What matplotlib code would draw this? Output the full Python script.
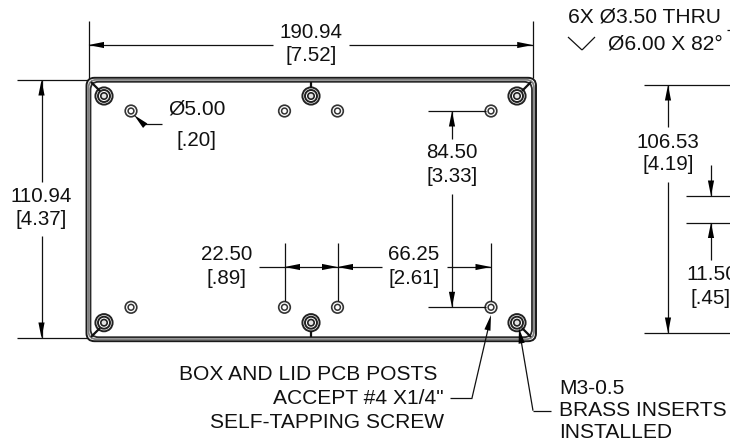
import matplotlib
matplotlib.use('Agg')
import matplotlib.pyplot as plt
from matplotlib.patches import Circle, FancyBboxPatch
import numpy as np

plt.rcParams['font.family'] = ['Liberation Sans', 'DejaVu Sans']

# Drawing geometry in pixels
big_holes = [(104, 96), (311, 96), (517, 96), (104, 322.7), (311, 322.7), (517, 322.7)]
small_holes = [(131, 111), (284.5, 111), (337.5, 111), (491, 111),
               (131, 307.3), (284.5, 307.3), (337.5, 307.3), (491, 307.3)]
corner_ticks = [((91, 82), (100, 91)), ((311, 82), (311, 88)), ((531, 82), (522, 91)),
                ((91, 337), (100, 328)), ((311, 337), (311, 331)), ((531, 337), (522, 328))]

thin_lines = [
    ((88.5, 21), (88.5, 78)), ((532.7, 21), (532.7, 78)),
    ((88.5, 45), (273, 45)), ((349, 45), (532.7, 45)),
    ((17, 80), (88, 80)), ((17, 338), (88, 338)),
    ((41.5, 80), (41.5, 182)), ((41.5, 236), (41.5, 338)),
    ((145, 124), (162, 124)),
    ((644, 85), (730, 85)), ((644, 333), (730, 333)),
    ((668, 85), (668, 127)), ((668, 182), (668, 333)),
    ((686, 196), (730, 196)), ((686, 222.5), (730, 222.5)),
    ((711, 165), (711, 196)), ((711, 222.5), (711, 260)),
    ((428, 111), (486, 111)), ((428, 307.3), (486, 307.3)),
    ((452, 111), (452, 139)), ((452, 194), (452, 307.3)),
    ((284.5, 243), (284.5, 301)), ((337.5, 243), (337.5, 301)), ((491, 243), (491, 301)),
    ((259, 267), (382, 267)), ((447, 267), (491, 267)),
    ((450, 398), (472, 398)), ((472, 398), (489, 325)),
    ((551, 410.7), (533, 410.7)), ((533, 410.7), (521, 340)),
    ((568, 37), (582, 50)), ((582, 50), (595, 37)),
    ((727, 30), (730, 30)),
]
# tip x, tip y, direction x, direction y (direction points from the tip to the tail)
arrows = [
    (88.5, 45, 1, 0), (532.7, 45, -1, 0),
    (41.5, 80, 0, 1), (41.5, 338, 0, -1),
    (668, 85, 0, 1), (668, 333, 0, -1),
    (711, 196, 0, -1), (711, 222.5, 0, 1),
    (452, 111, 0, 1), (452, 307.3, 0, -1),
    (284.5, 267, 1, 0), (337.5, 267, -1, 0), (337.5, 267, 1, 0), (491, 267, -1, 0),
    (491, 315, -0.23, 0.97), (519, 328, 0.17, 0.98),
    (134, 115, 0.72, 0.69),
]

labels_digits = [
    ('190.94', 311, 32), ('[7.52]', 311, 55),
    ('110.94', 41, 196), ('[4.37]', 41, 219),
    ('[.20]', 197, 140),
    ('106.53', 668, 142), ('[4.19]', 668, 165),
    ('84.50', 452, 153), ('[3.33]', 452, 176),
    ('22.50', 227, 255), ('[.89]', 227, 279),
    ('66.25', 414, 255), ('[2.61]', 414, 279),
    ('[.45]', 711, 298),
]
labels_left = [
    ('\u00d85.00', 168, 109),
    ('6X \u00d83.50 THRU', 568, 17), ('\u00d86.00 X 82\u00b0', 608, 44),
    ('11.50', 686, 275),
    ('M3-0.5', 559, 388), ('BRASS INSERTS', 559, 411), ('INSTALLED', 559, 433),
]
labels_right = [
    ('BOX AND LID PCB POSTS', 437, 375),
    ('ACCEPT #4 X1/4"', 444, 398),
    ('SELF-TAPPING SCREW', 444, 422),
]

fig = plt.figure(figsize=(7.30, 4.43), dpi=100)
ax = fig.add_axes([0, 0, 1, 1])
ax.set_xlim(0, 730)
ax.set_ylim(443, 0)
ax.axis('off')

ink = '#111111'

# box outline, three nested rounded lines
for inset, lw, col in [(0, 1.4, '#1a1a1a'), (2, 1.3, '#808080'), (4, 1.3, '#2a2a2a')]:
    ax.add_patch(FancyBboxPatch((86.5 + inset + 8, 77.8 + inset + 8),
                                449.5 - 2 * inset - 16, 263.4 - 2 * inset - 16,
                                boxstyle='round,pad=8,rounding_size=8',
                                fc='none', ec=col, lw=lw))

for (a, b) in corner_ticks:
    ax.plot([a[0], b[0]], [a[1], b[1]], color=ink, lw=1.6, solid_capstyle='butt')

for x, y in big_holes:
    for r, lw, fc in [(8.6, 1.4, 'white'), (6.0, 1.4, 'white'), (3.2, 1.2, '#e4e4e4')]:
        ax.add_patch(Circle((x, y), r, fc=fc, ec='#222222', lw=lw))
for x, y in small_holes:
    for r, lw in [(5.8, 1.2), (2.9, 1.1)]:
        ax.add_patch(Circle((x, y), r, fc='white', ec='#333333', lw=lw))

for a, b in thin_lines:
    ax.plot([a[0], b[0]], [a[1], b[1]], color=ink, lw=0.9, solid_capstyle='butt', zorder=1)

for tx, ty, dx, dy in arrows:
    d = np.array([dx, dy]) / np.hypot(dx, dy)
    n = np.array([-d[1], d[0]])
    tip = np.array([tx, ty])
    tail = tip + d * 15.5
    pts = np.array([tip, tail + n * 3.1, tail - n * 3.1])
    ax.fill(pts[:, 0], pts[:, 1], color='black', lw=0, zorder=4)

for s, x, y in labels_digits:
    ax.text(x, y, s, ha='center', va='center', fontsize=14.8, color=ink)
for s, x, y in labels_left:
    ax.text(x, y, s, ha='left', va='center', fontsize=15.1, color=ink)
for s, x, y in labels_right:
    ax.text(x, y, s, ha='right', va='center', fontsize=15.1, color=ink)

fig.savefig('out.png', dpi=100)
